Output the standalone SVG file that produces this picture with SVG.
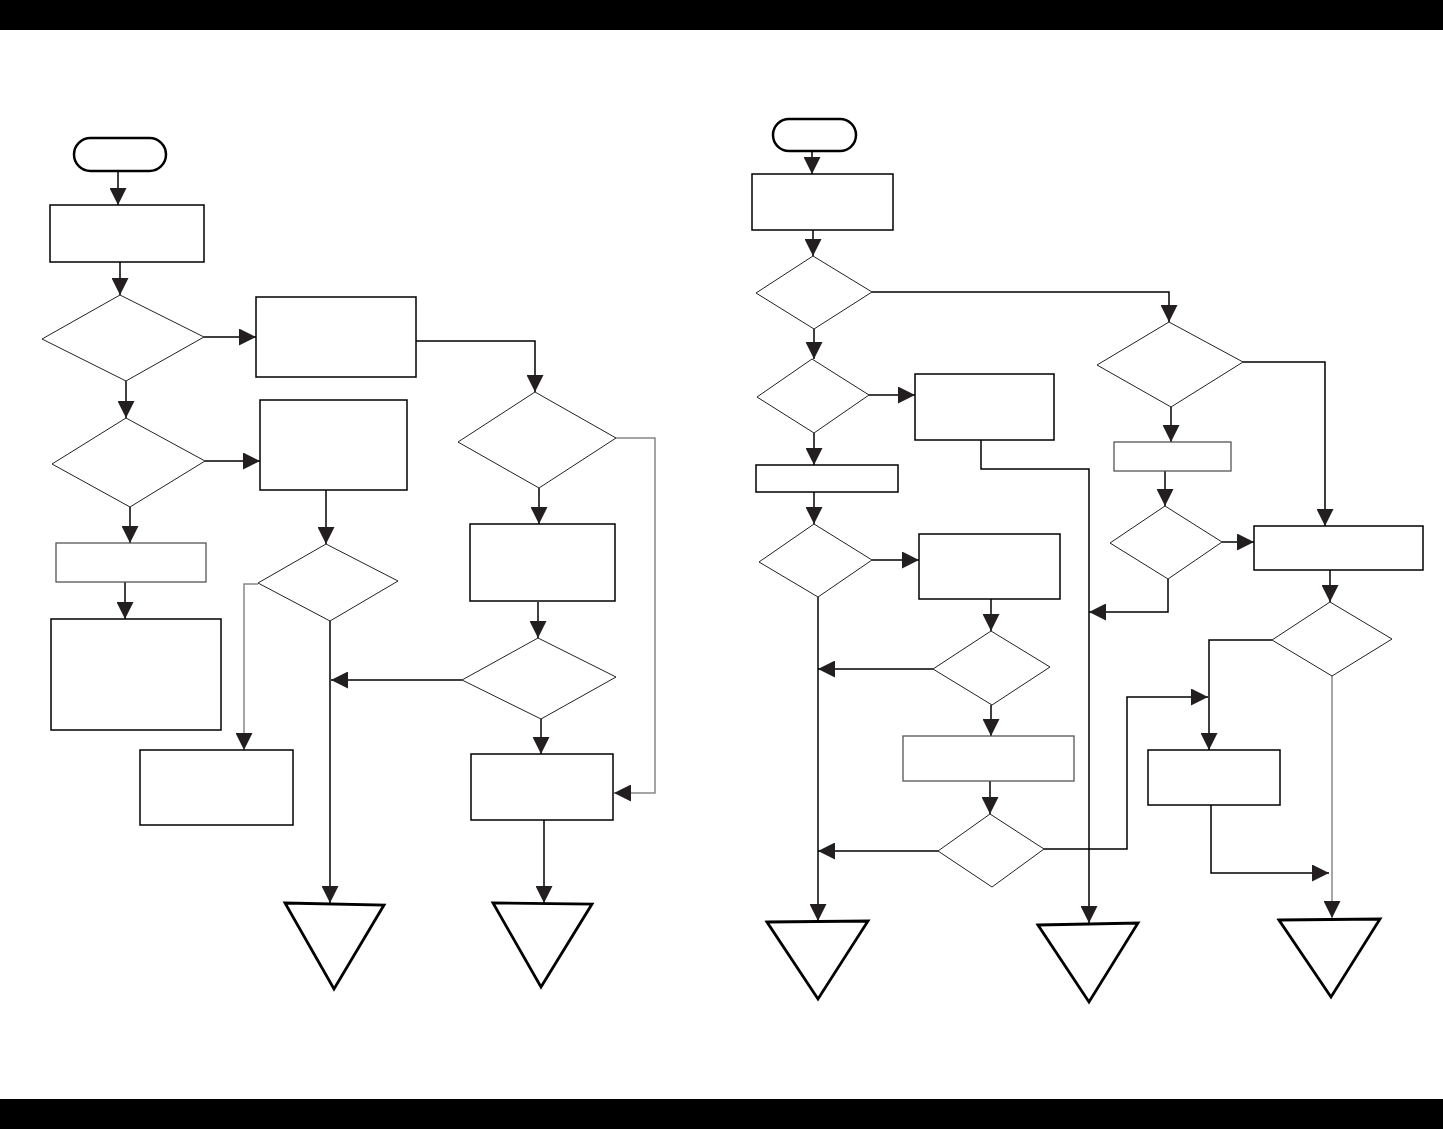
<svg xmlns="http://www.w3.org/2000/svg" width="1443" height="1129" viewBox="0 0 1443 1129">
<style>
.bar{fill:#000}
.term{fill:#fff;stroke:#000;stroke-width:2.5}
.box{fill:#fff;stroke:#000;stroke-width:1.5}
.boxg{fill:#fff;stroke:#555;stroke-width:1.3}
.dia{fill:#fff;stroke:#222;stroke-width:1}
.tri{fill:#fff;stroke:#000;stroke-width:2.8;stroke-linejoin:miter}
.c{fill:none;stroke:#000;stroke-width:1.5}
.cg{fill:none;stroke:#888;stroke-width:1.5}
</style>
<defs>
<marker id="ah" markerUnits="userSpaceOnUse" markerWidth="17" markerHeight="17" viewBox="0 0 17 17" refX="17" refY="8.5" orient="auto">
<path d="M0,0 L17,8.5 L0,17 z" fill="#231f20"/>
</marker>
</defs>
<rect width="1443" height="1129" fill="#fff"/>
<rect class="bar" x="0" y="0" width="1443" height="30"/>
<rect class="bar" x="0" y="1099" width="1443" height="30"/>

<g id="connectors">
<path class="c" d="M118,171 V205" marker-end="url(#ah)"/>
<path class="c" d="M120,262 V295" marker-end="url(#ah)"/>
<path class="c" d="M204,337 H256" marker-end="url(#ah)"/>
<path class="c" d="M416,341 H535 V392" marker-end="url(#ah)"/>
<path class="c" d="M126,381 V418" marker-end="url(#ah)"/>
<path class="c" d="M205,461 H260" marker-end="url(#ah)"/>
<path class="c" d="M130,507 V543" marker-end="url(#ah)"/>
<path class="c" d="M125,582 V619" marker-end="url(#ah)"/>
<path class="c" d="M326,490 V544" marker-end="url(#ah)"/>
<path class="cg" d="M258,584 H244 V750" marker-end="url(#ah)"/>
<path class="c" d="M330,621 V903" marker-end="url(#ah)"/>
<path class="c" d="M462,680 H331" marker-end="url(#ah)"/>
<path class="c" d="M539,488 V524" marker-end="url(#ah)"/>
<path class="c" d="M538,602 V638" marker-end="url(#ah)"/>
<path class="c" d="M541,719 V754" marker-end="url(#ah)"/>
<path class="cg" d="M616,438 H655 V793 H614" marker-end="url(#ah)"/>
<path class="c" d="M544,820 V903" marker-end="url(#ah)"/>

<path class="c" d="M812,151 V174" marker-end="url(#ah)"/>
<path class="c" d="M813,230 V256" marker-end="url(#ah)"/>
<path class="c" d="M872,292 H1169 V322" marker-end="url(#ah)"/>
<path class="c" d="M814,329 V359" marker-end="url(#ah)"/>
<path class="c" d="M869,395 H915" marker-end="url(#ah)"/>
<path class="c" d="M814,433 V465" marker-end="url(#ah)"/>
<path class="c" d="M814,492 V524" marker-end="url(#ah)"/>
<path class="c" d="M872,560 H919" marker-end="url(#ah)"/>
<path class="c" d="M991,599 V631" marker-end="url(#ah)"/>
<path class="c" d="M933,669 H818" marker-end="url(#ah)"/>
<path class="c" d="M991,705 V736" marker-end="url(#ah)"/>
<path class="c" d="M990,781 V814" marker-end="url(#ah)"/>
<path class="c" d="M938,851 H818" marker-end="url(#ah)"/>
<path class="c" d="M818,597 V921" marker-end="url(#ah)"/>
<path class="c" d="M981,440 V469 H1089 V923" marker-end="url(#ah)"/>
<path class="c" d="M1044,849 H1127 V697 H1208" marker-end="url(#ah)"/>
<path class="c" d="M1171,407 V442" marker-end="url(#ah)"/>
<path class="c" d="M1165,471 V506" marker-end="url(#ah)"/>
<path class="c" d="M1222,542 H1254" marker-end="url(#ah)"/>
<path class="c" d="M1168,579 V612 H1089" marker-end="url(#ah)"/>
<path class="c" d="M1243,362 H1325 V526" marker-end="url(#ah)"/>
<path class="c" d="M1330,570 V602" marker-end="url(#ah)"/>
<path class="c" d="M1272,640 H1209 V750" marker-end="url(#ah)"/>
<path class="c" d="M1211,805 V873 H1329" marker-end="url(#ah)"/>
<path class="cg" d="M1332,676 V918" marker-end="url(#ah)"/>
</g>

<g id="start-left"><rect class="term" x="74" y="138" width="92" height="33" rx="16.5"/></g>
<g id="box-l1"><rect class="box" x="50" y="205" width="154" height="57"/></g>
<g id="dec-l1"><polygon class="dia" points="120,295 204,337 126,381 42,339"/></g>
<g id="box-l2"><rect class="box" x="256" y="297" width="160" height="80"/></g>
<g id="dec-l2"><polygon class="dia" points="126,418 205,461 130,507 52,464"/></g>
<g id="box-l3"><rect class="box" x="260" y="400" width="147" height="90"/></g>
<g id="box-l4"><rect class="boxg" x="56" y="543" width="150" height="39"/></g>
<g id="box-l5"><rect class="box" x="51" y="619" width="170" height="111"/></g>
<g id="dec-l3"><polygon class="dia" points="326,544 398,581 330,621 258,583"/></g>
<g id="box-l6"><rect class="box" x="140" y="750" width="153" height="75"/></g>
<g id="end-l1"><polygon class="tri" points="285,903 384,905 334,989"/></g>
<g id="dec-l4"><polygon class="dia" points="535,392 616,438 539,488 458,442"/></g>
<g id="box-l7"><rect class="box" x="470" y="524" width="145" height="77"/></g>
<g id="dec-l5"><polygon class="dia" points="538,638 616,677 541,719 462,680"/></g>
<g id="box-l8"><rect class="box" x="471" y="754" width="142" height="66"/></g>
<g id="end-l2"><polygon class="tri" points="493,903 592,904 541,987"/></g>

<g id="start-right"><rect class="term" x="773" y="119" width="83" height="32" rx="16"/></g>
<g id="box-r1"><rect class="box" x="752" y="174" width="141" height="56"/></g>
<g id="dec-r1"><polygon class="dia" points="813,256 872,292 814,329 756,293"/></g>
<g id="dec-r2"><polygon class="dia" points="812,359 869,395 814,433 757,397"/></g>
<g id="box-r2"><rect class="box" x="915" y="374" width="139" height="66"/></g>
<g id="box-r3"><rect class="box" x="756" y="465" width="142" height="27"/></g>
<g id="dec-r3"><polygon class="dia" points="814,524 872,560 818,597 759,562"/></g>
<g id="box-r4"><rect class="box" x="919" y="534" width="141" height="65"/></g>
<g id="dec-r4"><polygon class="dia" points="991,631 1050,667 992,705 933,669"/></g>
<g id="box-r5"><rect class="boxg" x="903" y="736" width="171" height="45"/></g>
<g id="dec-r5"><polygon class="dia" points="990,814 1044,849 992,887 938,851"/></g>
<g id="end-r1"><polygon class="tri" points="767,922 868,921 818,999"/></g>
<g id="end-r2"><polygon class="tri" points="1038,925 1138,923 1089,1002"/></g>
<g id="dec-r6"><polygon class="dia" points="1169,322 1243,362 1171,407 1097,365"/></g>
<g id="box-r6"><rect class="boxg" x="1114" y="442" width="117" height="29"/></g>
<g id="dec-r7"><polygon class="dia" points="1165,506 1222,542 1168,579 1110,543"/></g>
<g id="box-r7"><rect class="box" x="1254" y="526" width="169" height="44"/></g>
<g id="dec-r8"><polygon class="dia" points="1330,602 1392,639 1332,676 1272,640"/></g>
<g id="box-r8"><rect class="box" x="1148" y="750" width="132" height="55"/></g>
<g id="end-r3"><polygon class="tri" points="1279,920 1380,919 1331,997"/></g>
</svg>
